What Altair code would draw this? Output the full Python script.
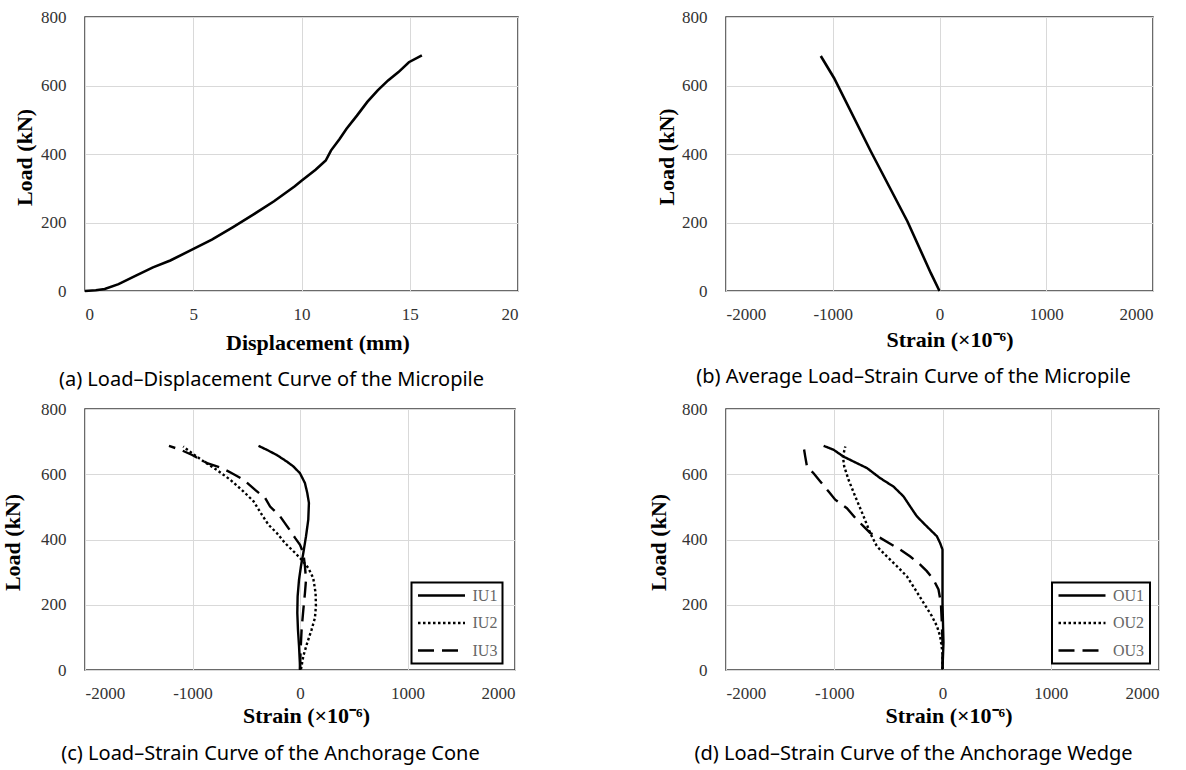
import altair as alt
import pandas as pd

# ---------------- data ----------------
# (a) load-displacement
a_disp = [0, 0.5, 0.91, 1.55, 2.35, 3.14, 3.94, 5.01, 5.86, 6.82, 7.77, 8.73, 9.69, 10.0,
          10.65, 11.12, 11.36, 11.76, 12.08, 12.56, 13.04, 13.52, 14.0, 14.48, 14.96, 15.56]
a_load = [0, 2, 6, 20, 45, 69, 89, 123, 150, 186, 223, 262, 306, 322,
          354, 381, 410, 444, 474, 512, 552, 586, 615, 639, 668, 688]

# (b) average load-strain
b_strain = [0, -81, -300, -644, -988, -1112]
b_load = [0, 52, 203, 408, 622, 686]

# (c) anchorage cone
iu1_strain = [0, 0, -9, -19, -25, -22, -9, 9, 31, 56, 77, 83, 68, 46, 0, -62, -123, -216, -309, -386]
iu1_load = [0, 12, 73, 124, 175, 226, 277, 318, 359, 410, 461, 512, 542, 573, 603, 624, 639, 659, 675, 687]
iu2_strain = [9, 31, 68, 108, 139, 148, 145, 123, 77, 15, -46, -139, -216, -293, -355, -432, -525,
              -648, -772, -895, -1003, -1086]
iu2_load = [2, 43, 84, 124, 160, 196, 236, 282, 313, 338, 359, 389, 420, 445, 476, 517, 547,
            583, 613, 639, 664, 685]
iu3_strain = [0, 6, 15, 31, 46, 56, 46, 31, 0, -46, -108, -185, -278, -324, -417, -525, -633,
              -725, -864, -1003, -1111, -1219]
iu3_load = [2, 63, 124, 185, 236, 277, 318, 359, 384, 405, 435, 471, 501, 527, 552, 583, 603,
            619, 634, 659, 675, 687]

# (d) anchorage wedge
ou1_strain = [0, 9, 0, 0, 0, -22, -52, -114, -175, -237, -298, -360, -452, -575, -698, -791,
              -914, -1006, -1098]
ou1_load = [2, 84, 206, 308, 369, 389, 410, 430, 450, 471, 501, 532, 562, 588, 619, 634,
            654, 675, 687]
ou2_strain = [0, 0, -22, -52, -98, -175, -252, -329, -421, -514, -606, -668, -729, -806, -868,
              -908, -920, -898]
ou2_load = [2, 53, 104, 135, 165, 206, 247, 287, 318, 348, 379, 420, 471, 532, 583,
            624, 654, 685]
ou3_strain = [0, 0, -6, -15, -37, -83, -145, -206, -298, -391, -468, -575, -668, -729, -806,
              -883, -991, -1052, -1129, -1191, -1252, -1268, -1283]
ou3_load = [2, 84, 145, 206, 247, 277, 303, 323, 348, 369, 384, 405, 420, 440, 466,
            496, 522, 547, 578, 603, 624, 654, 685]

SERIF = "Liberation Serif"
SANS = "Noto Sans"
LOAD_TICKS = [0, 200, 400, 600, 800]
STRAIN_TICKS = [-2000, -1000, 0, 1000, 2000]
DISP_TICKS = [0, 5, 10, 15, 20]


def series_df(pairs):
    rows = []
    for name, xs, ys in pairs:
        for i, (x, y) in enumerate(zip(xs, ys)):
            rows.append({"series": name, "strain": x, "load": y, "i": i})
    return pd.DataFrame(rows)


def x_axis(title, values, tx, ty):
    return alt.Axis(values=values, title=title, grid=True, gridColor="#d9d9d9", domain=False,
                    ticks=False, labelFont=SERIF, labelFontSize=17, labelColor="#333",
                    labelPadding=15, labelExpr="'' + datum.value",
                    titleFont=SERIF, titleFontSize=22, titleFontWeight="bold", titleColor="#000",
                    titleX=tx, titleY=ty, titleBaseline="top")


def y_axis(tx, ty):
    return alt.Axis(values=LOAD_TICKS, title="Load (kN)", grid=True, gridColor="#d9d9d9",
                    domain=False, ticks=False, labelFont=SERIF, labelFontSize=17,
                    labelColor="#333", labelPadding=19,
                    titleFont=SERIF, titleFontSize=22, titleFontWeight="bold", titleColor="#000",
                    titleX=tx, titleY=ty)


def caption(text, dx, offset):
    return alt.TitleParams(text, orient="bottom", anchor="middle", frame="group", offset=offset,
                           dx=dx, font=SANS, fontSize=20, fontWeight="normal", color="#000",
                           baseline="top")


def legend(lx, ly):
    return alt.Legend(orient="none", legendX=lx, legendY=ly, title=None, symbolType="stroke",
                      symbolSize=2209, symbolStrokeWidth=2.5, symbolStrokeColor="#000",
                      labelFont=SERIF, labelFontSize=16, labelColor="#666", padding=5,
                      strokeColor="#000", clipHeight=16, rowPadding=11.5, symbolOffset=0,
                      labelOffset=6)


VIEW = alt.ViewBackground(stroke="#3a3a3a", strokeWidth=1.5)

# (a)
df_a = pd.DataFrame({"disp": a_disp, "load": a_load, "i": range(len(a_disp))})
chart_a = alt.Chart(df_a, view=VIEW).mark_line(color="#000", strokeWidth=2.6).encode(
    x=alt.X("disp:Q", scale=alt.Scale(domain=[0, 20], nice=False),
            axis=x_axis("Displacement (mm)", DISP_TICKS, 232.5, 41)),
    y=alt.Y("load:Q", scale=alt.Scale(domain=[0, 800], nice=False), axis=y_axis(-49, 140)),
    order="i:Q",
).properties(width=433, height=274,
             title=caption("(a) Load\u2013Displacement Curve of the Micropile", -30, 17))

# (b)
df_b = pd.DataFrame({"strain": b_strain, "load": b_load, "i": range(len(b_strain))})
chart_b = alt.Chart(df_b, view=VIEW).mark_line(color="#000", strokeWidth=2.6).encode(
    x=alt.X("strain:Q", scale=alt.Scale(domain=[-2000, 2000], nice=False),
            axis=x_axis("Strain (\u00d710\u207b\u2076)", STRAIN_TICKS, 223.5, 38)),
    y=alt.Y("load:Q", scale=alt.Scale(domain=[0, 800], nice=False), axis=y_axis(-47.9, 139.5)),
    order="i:Q",
).properties(width=427, height=274,
             title=caption("(b) Average Load\u2013Strain Curve of the Micropile", -26, 17))

# (c)
df_c = series_df([("IU1", iu1_strain, iu1_load), ("IU2", iu2_strain, iu2_load),
                  ("IU3", iu3_strain, iu3_load)])
chart_c = alt.Chart(df_c, view=VIEW).mark_line(color="#000", strokeWidth=2.4).encode(
    x=alt.X("strain:Q", scale=alt.Scale(domain=[-2000, 2000], nice=False),
            axis=x_axis("Strain (\u00d710\u207b\u2076)", STRAIN_TICKS, 221, 35.5)),
    y=alt.Y("load:Q", scale=alt.Scale(domain=[0, 800], nice=False), axis=y_axis(-60.3, 133)),
    strokeDash=alt.StrokeDash("series:N",
                              scale=alt.Scale(domain=["IU1", "IU2", "IU3"],
                                              range=[[1, 0], [2.5, 2.5], [16, 8]]),
                              legend=legend(326.5, 173.5)),
    detail="series:N",
    order="i:Q",
).properties(width=430, height=261,
             title=caption("(c) Load\u2013Strain Curve of the Anchorage Cone", -29.5, 17))

# (d)
df_d = series_df([("OU1", ou1_strain, ou1_load), ("OU2", ou2_strain, ou2_load),
                  ("OU3", ou3_strain, ou3_load)])
chart_d = alt.Chart(df_d, view=VIEW).mark_line(color="#000", strokeWidth=2.4).encode(
    x=alt.X("strain:Q", scale=alt.Scale(domain=[-2000, 2000], nice=False),
            axis=x_axis("Strain (\u00d710\u207b\u2076)", STRAIN_TICKS, 222.5, 35.5)),
    y=alt.Y("load:Q", scale=alt.Scale(domain=[0, 800], nice=False), axis=y_axis(-55.4, 133)),
    strokeDash=alt.StrokeDash("series:N",
                              scale=alt.Scale(domain=["OU1", "OU2", "OU3"],
                                              range=[[1, 0], [2.5, 2.5], [16, 8]]),
                              legend=legend(326, 173.5)),
    detail="series:N",
    order="i:Q",
).properties(width=433, height=261,
             title=caption("(d) Load\u2013Strain Curve of the Anchorage Wedge", -29, 17))

chart = alt.concat(
    chart_a, chart_b, chart_c, chart_d,
    columns=2,
    spacing=alt.RowColnumber(row=118, column=208),
    bounds="flush",
).resolve_scale(strokeDash="independent").resolve_legend(strokeDash="independent").properties(
    padding={"left": 0, "top": 7, "right": 5, "bottom": 5},
    background="white",
).configure_legend(strokeWidth=2)

chart.save("out.html", embed_options={"renderer": "svg", "actions": False})
